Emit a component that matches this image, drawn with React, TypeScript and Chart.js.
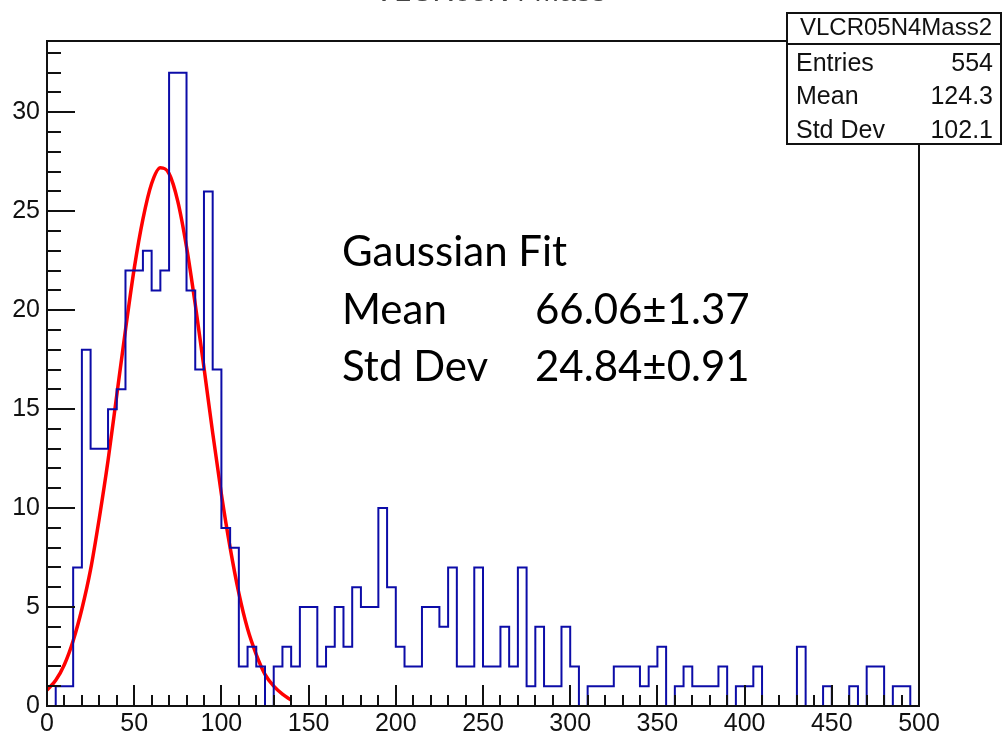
import React, { useEffect, useRef } from "react";
import { Chart, registerables } from "chart.js";

Chart.register(...registerables);

// Histogram definition: 100 bins of width 5 from 0 to 500
const BIN_LOW = 0;
const BIN_WIDTH = 5;
const COUNTS = [
  0, 1, 1, 7, 18, 13, 13, 15, 16, 22,
  22, 23, 21, 22, 32, 32, 21, 17, 26, 17,
  9, 8, 2, 3, 2, 0, 2, 3, 2, 5,
  5, 2, 3, 5, 3, 6, 5, 5, 10, 6,
  3, 2, 2, 5, 5, 4, 7, 2, 2, 7,
  2, 2, 4, 2, 7, 1, 4, 1, 1, 4,
  2, 0, 1, 1, 1, 2, 2, 2, 1, 2,
  3, 0, 1, 2, 1, 1, 1, 2, 0, 1,
  1, 2, 0, 0, 0, 0, 3, 0, 0, 1,
  0, 0, 1, 0, 2, 2, 0, 1, 1, 0,
];

// Gaussian fit curve
const FIT_X = [0, 5, 10, 15, 20, 25, 30, 35, 40, 45, 50, 55, 60, 65, 70, 75, 80, 85, 90, 95, 100, 105, 110, 115, 120, 125, 130, 135, 140];
const FIT_Y = [0.8, 1.3, 2.1, 3.3, 4.9, 6.9, 9.5, 12.4, 15.7, 19.0, 22.1, 24.6, 26.4, 27.2, 26.9, 25.5, 23.2, 20.3, 17.1, 13.8, 10.7, 8.0, 5.7, 3.9, 2.6, 1.6, 1.0, 0.6, 0.3];

const X_TICKS = [0, 50, 100, 150, 200, 250, 300, 350, 400, 450, 500];
const Y_TICKS = [0, 5, 10, 15, 20, 25, 30];
const X_MAX = 500;
const Y_MAX = 33.6;

const TITLE = "VLCR05N4 Mass";
const STATS_NAME = "VLCR05N4Mass2";
const STATS_LABELS = ["Entries", "Mean", "Std Dev"];
const STATS_VALUES = ["554", "124.3", "102.1"];
const FIT_TITLE = "Gaussian Fit";
const FIT_LABELS = ["Mean", "Std Dev"];
const FIT_VALUES = ["66.06\u00b11.37", "24.84\u00b10.91"];

const AXIS_FONT = "'Liberation Sans', Arial, sans-serif";
const NOTE_FONT = "Lato, 'Open Sans', sans-serif";

const rootStylePlugin = {
  id: "rootStyle",
  afterDatasetsDraw(chart: any) {
    const { ctx, chartArea, scales } = chart;
    const xs = scales.x;
    const ys = scales.y;
    ctx.save();
    // frame
    ctx.strokeStyle = "#111";
    ctx.lineWidth = 2;
    ctx.strokeRect(chartArea.left, chartArea.top, chartArea.right - chartArea.left, chartArea.bottom - chartArea.top);
    // y ticks (inside)
    for (let v = 0; v <= Math.floor(Y_MAX); v += 1) {
      const py = Math.round(ys.getPixelForValue(v));
      const len = v % 5 === 0 ? 28 : 14;
      ctx.beginPath();
      ctx.moveTo(chartArea.left, py);
      ctx.lineTo(chartArea.left + len, py);
      ctx.stroke();
    }
    // x ticks (inside)
    for (let v = 0; v <= X_MAX; v += 10) {
      const px = Math.round(xs.getPixelForValue(v));
      const len = v % 50 === 0 ? 21 : 11;
      ctx.beginPath();
      ctx.moveTo(px, chartArea.bottom);
      ctx.lineTo(px, chartArea.bottom - len);
      ctx.stroke();
    }
    ctx.restore();
  },
  afterDraw(chart: any) {
    const { ctx } = chart;
    ctx.save();
    // cut-off title at top
    ctx.fillStyle = "#444";
    ctx.font = `30px ${AXIS_FONT}`;
    ctx.textAlign = "center";
    ctx.textBaseline = "alphabetic";
    ctx.fillText(TITLE, 490, 0.5);

    // fit annotation
    ctx.fillStyle = "#000";
    ctx.font = `42px ${NOTE_FONT}`;
    ctx.textAlign = "left";
    ctx.fillText(FIT_TITLE, 342, 266);
    FIT_LABELS.forEach((l, i) => {
      const by = 324 + i * 57;
      ctx.fillText(l, 342, by);
      ctx.fillText(FIT_VALUES[i], 535, by);
    });

    // stats box
    const bx = 787, by0 = 13, bx1 = 1001, by1 = 144, div = 44;
    ctx.fillStyle = "#fff";
    ctx.fillRect(bx, by0, bx1 - bx, by1 - by0);
    ctx.strokeStyle = "#111";
    ctx.lineWidth = 2;
    ctx.strokeRect(bx, by0, bx1 - bx, by1 - by0);
    ctx.beginPath();
    ctx.moveTo(bx, div);
    ctx.lineTo(bx1, div);
    ctx.stroke();
    ctx.fillStyle = "#111";
    ctx.font = `24px ${AXIS_FONT}`;
    ctx.textAlign = "center";
    ctx.textBaseline = "middle";
    ctx.fillText(STATS_NAME, (bx + bx1) / 2 + 2, 28);
    ctx.font = `25px ${AXIS_FONT}`;
    STATS_LABELS.forEach((l, i) => {
      const cy = 64 + i * 33.5;
      ctx.textAlign = "left";
      ctx.fillText(l, 796, cy);
      ctx.textAlign = "right";
      ctx.fillText(STATS_VALUES[i], 993, cy);
    });
    ctx.restore();
  },
};

export default function App() {
  const ref = useRef<HTMLCanvasElement | null>(null);

  useEffect(() => {
    if (!ref.current) return;
    const histPoints = COUNTS.map((c, i) => ({ x: BIN_LOW + i * BIN_WIDTH, y: c }));
    histPoints.push({ x: BIN_LOW + COUNTS.length * BIN_WIDTH, y: COUNTS[COUNTS.length - 1] });
    const fitPoints = FIT_X.map((x, i) => ({ x, y: FIT_Y[i] }));

    const chart = new Chart(ref.current, {
      type: "line",
      data: {
        datasets: [
          {
            label: "hist",
            data: histPoints,
            stepped: "before",
            borderColor: "#0c0ca8",
            borderWidth: 2,
            pointRadius: 0,
            fill: false,
          },
          {
            label: "gaus",
            data: fitPoints,
            borderColor: "#ff0000",
            borderWidth: 3.5,
            pointRadius: 0,
            cubicInterpolationMode: "monotone",
            fill: false,
          },
        ],
      },
      options: {
        responsive: false,
        devicePixelRatio: 1,
        animation: false,
        layout: { padding: { left: 0, right: 85, top: 41, bottom: 0 } },
        plugins: { legend: { display: false }, tooltip: { enabled: false }, title: { display: false } },
        scales: {
          x: {
            type: "linear",
            min: 0,
            max: X_MAX,
            grid: { display: false, drawTicks: false },
            border: { display: false },
            afterBuildTicks: (s: any) => {
              s.ticks = X_TICKS.map((v) => ({ value: v }));
            },
            afterFit: (s: any) => {
              s.height = 30;
            },
            ticks: {
              autoSkip: false,
              maxRotation: 0,
              padding: 3,
              color: "#111",
              font: { family: AXIS_FONT, size: 25 },
              callback: (v: any) => String(v),
            },
          },
          y: {
            type: "linear",
            min: 0,
            max: Y_MAX,
            grid: { display: false, drawTicks: false },
            border: { display: false },
            afterBuildTicks: (s: any) => {
              s.ticks = Y_TICKS.map((v) => ({ value: v }));
            },
            afterFit: (s: any) => {
              s.width = 47;
            },
            ticks: {
              autoSkip: false,
              padding: 7,
              color: "#111",
              font: { family: AXIS_FONT, size: 25 },
              callback: (v: any) => String(v),
            },
          },
        },
      },
      plugins: [rootStylePlugin],
    });
    return () => chart.destroy();
  }, []);

  return (
    <div style={{ position: "absolute", left: 0, top: 0, width: 1004, height: 736, background: "#fff" }}>
      <canvas ref={ref} width={1004} height={736} style={{ display: "block", width: 1004, height: 736 }} />
    </div>
  );
}
